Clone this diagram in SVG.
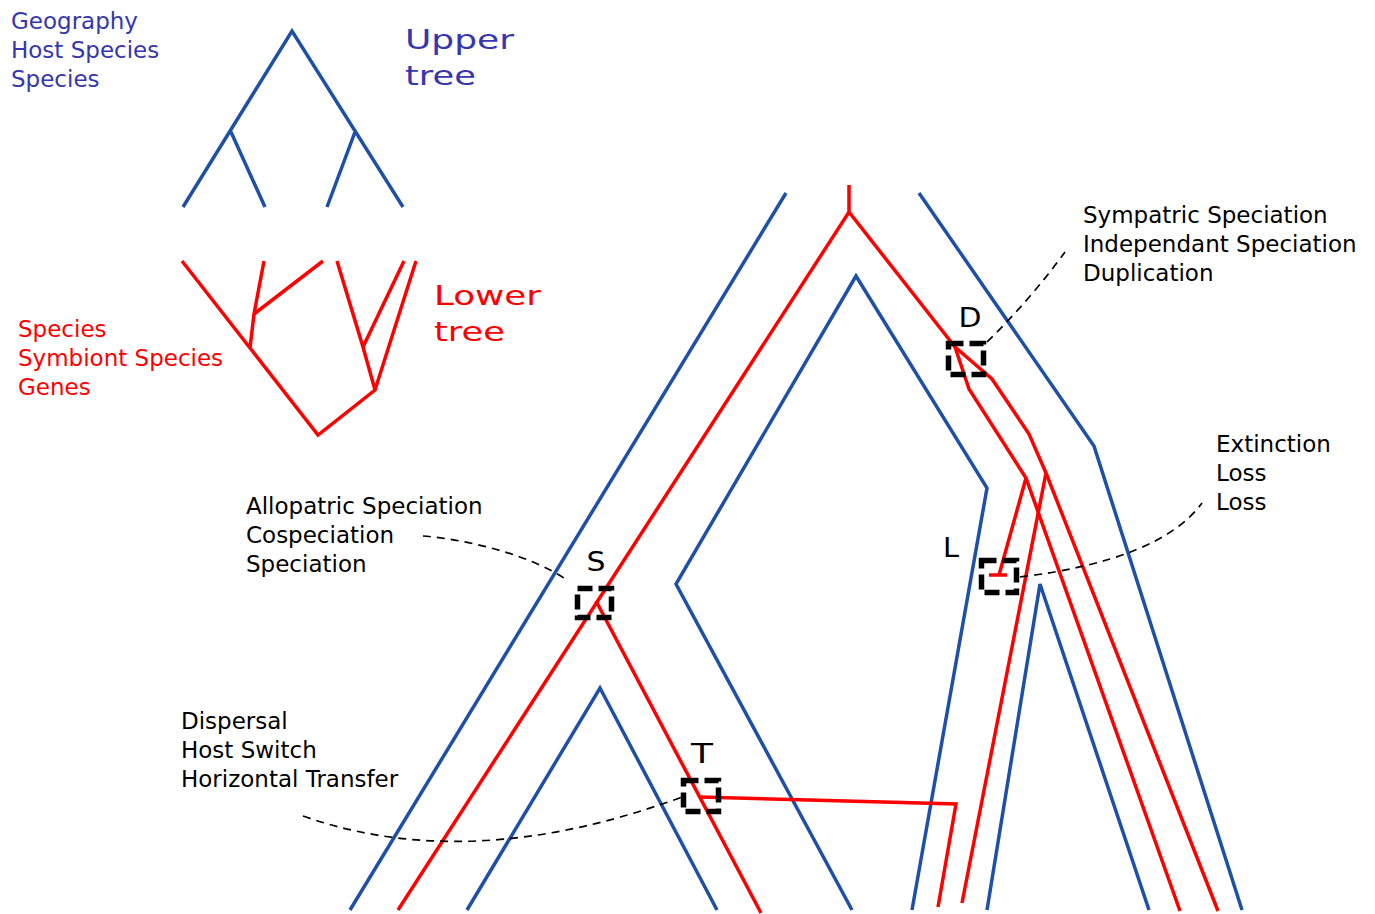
<svg xmlns="http://www.w3.org/2000/svg" width="1375" height="914" viewBox="0 0 1375 914">
<style>
.blue{fill:none;stroke:#1e50a8;stroke-width:3.5;stroke-linejoin:miter}
.red{fill:none;stroke:#ff0000;stroke-width:3.5;stroke-linejoin:miter}
.box{fill:none;stroke:#000;stroke-width:5.5;stroke-dasharray:15,6}
.lead{fill:none;stroke:#000;stroke-width:1.7;stroke-dasharray:8,6}
.t{font-family:"DejaVu Sans","Liberation Sans",sans-serif;font-size:23px}
.big{font-family:"DejaVu Sans","Liberation Sans",sans-serif;font-size:27px}
.ev{font-family:"DejaVu Sans","Liberation Sans",sans-serif;font-size:26px;fill:#000;text-anchor:middle}
</style>
<rect width="1375" height="914" fill="#fff"/>

<g id="legend-upper">
<text class="t" fill="#3636b0" x="11" y="29">Geography</text>
<text class="t" fill="#3636b0" x="11" y="58">Host Species</text>
<text class="t" fill="#3636b0" x="11" y="87">Species</text>
<text class="big" fill="#3636b0" x="405" y="49" textLength="109" lengthAdjust="spacingAndGlyphs">Upper</text>
<text class="big" fill="#3636b0" x="405" y="85" textLength="71" lengthAdjust="spacingAndGlyphs">tree</text>
</g>
<g id="upper-tree">
<path class="blue" d="M183,207 L292,31 L403,207 M231,132 L265,207 M355,132 L327,207"/>
</g>

<g id="legend-lower">
<text class="t" fill="#ff0000" x="18" y="337">Species</text>
<text class="t" fill="#ff0000" x="18" y="366">Symbiont Species</text>
<text class="t" fill="#ff0000" x="18" y="395">Genes</text>
<text class="big" fill="#ff0000" x="434" y="305" textLength="107" lengthAdjust="spacingAndGlyphs">Lower</text>
<text class="big" fill="#ff0000" x="434" y="341" textLength="71" lengthAdjust="spacingAndGlyphs">tree</text>
</g>
<g id="lower-tree">
<path class="red" d="M182,261 L250,348 L318,435 L375,390 L416,261 M250,348 L254,314 L264,261 M254,314 L323,261 M375,390 L363,347 L337,261 M363,347 L404,261"/>
</g>

<g id="host-tree">
<path class="blue" d="M786,193 L350,910"/>
<path class="blue" d="M919,193 L1094,446 L1242,910"/>
<path class="blue" d="M852,910 L676,584 L856,276 L987,488 L912,910"/>
<path class="blue" d="M467,910 L600,688 L717,910"/>
<path class="blue" d="M987,910 L1040,584 L1149,910"/>
</g>

<g id="symbiont-tree">
<path class="red" d="M849,185 L849,212 M398,910 L849,212 L955,347"/>
<path class="red" d="M596,601 L761,913"/>
<path class="red" d="M700,797 L956,804 L938,907"/>
<path class="red" d="M955,347 L969,389 L1026,478 L1180,911"/>
<path class="red" d="M1026,478 L999,575 M989,575 L1007,575"/>
<path class="red" d="M955,347 L992,379 L1029,434 L1046,473 L1218,911"/>
<path class="red" d="M1046,473 L962,903"/>
</g>

<g id="event-S">
<rect class="box" x="577.5" y="588.5" width="34" height="29"/>
<text class="ev" x="596" y="571" textLength="19" lengthAdjust="spacingAndGlyphs">S</text>
</g>
<g id="event-D">
<rect class="box" x="948.5" y="343.5" width="35" height="31"/>
<text class="ev" x="970" y="327" textLength="23" lengthAdjust="spacingAndGlyphs">D</text>
</g>
<g id="event-L">
<rect class="box" x="981.5" y="560.5" width="35" height="32"/>
<text class="ev" x="951" y="557" textLength="16" lengthAdjust="spacingAndGlyphs">L</text>
</g>
<g id="event-T">
<rect class="box" x="683.5" y="780.5" width="35" height="31"/>
<text class="ev" x="702" y="763" textLength="22" lengthAdjust="spacingAndGlyphs">T</text>
</g>

<g id="label-D">
<text class="t" fill="#000" x="1083" y="223">Sympatric Speciation</text>
<text class="t" fill="#000" x="1083" y="252">Independant Speciation</text>
<text class="t" fill="#000" x="1083" y="281">Duplication</text>
</g>
<g id="label-L">
<text class="t" fill="#000" x="1216" y="452">Extinction</text>
<text class="t" fill="#000" x="1216" y="481">Loss</text>
<text class="t" fill="#000" x="1216" y="510">Loss</text>
</g>
<g id="label-S">
<text class="t" fill="#000" x="246" y="514">Allopatric Speciation</text>
<text class="t" fill="#000" x="246" y="543">Cospeciation</text>
<text class="t" fill="#000" x="246" y="572">Speciation</text>
</g>
<g id="label-T">
<text class="t" fill="#000" x="181" y="729">Dispersal</text>
<text class="t" fill="#000" x="181" y="758">Host Switch</text>
<text class="t" fill="#000" x="181" y="787">Horizontal Transfer</text>
</g>

<g id="connectors">
<path class="lead" d="M987,342 Q1030,300 1065,252"/>
<path class="lead" d="M1020,577 Q1160,560 1202,503"/>
<path class="lead" d="M423,536 C470,540 530,555 567,580"/>
<path class="lead" d="M303,816 Q470,875 682,797"/>
</g>
</svg>
